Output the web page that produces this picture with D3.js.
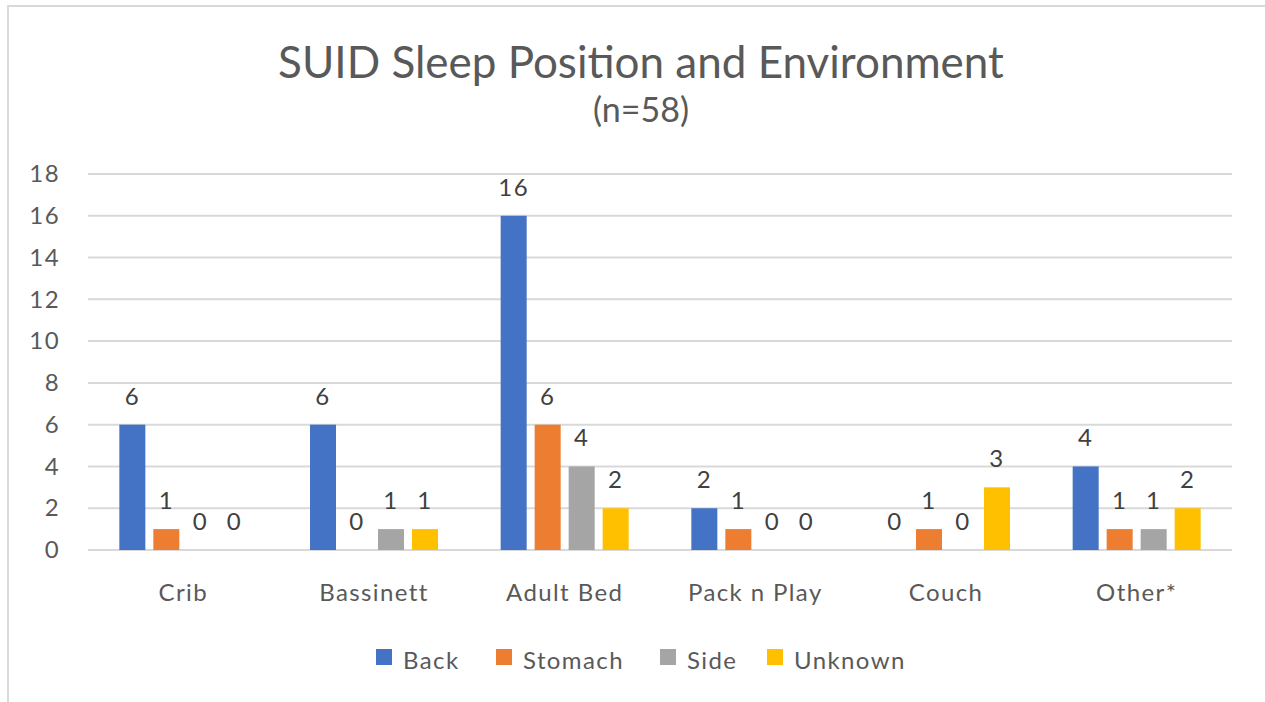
<!DOCTYPE html>
<html>
<head>
<meta charset="utf-8">
<script src="https://cdn.jsdelivr.net/npm/d3@7"></script>
<style>
  body { margin: 0; background: #fff; }
  svg { display: block; font-family: Lato, "Liberation Sans", sans-serif; }
</style>
</head>
<body>
<div id="chart"></div>
<script>
const categories = ['Crib', 'Bassinett', 'Adult Bed', 'Pack n Play', 'Couch', 'Other*'];
const seriesNames = ['Back', 'Stomach', 'Side', 'Unknown'];
const back = [6, 6, 16, 2, 0, 4];
const stomach = [1, 0, 6, 1, 1, 1];
const side = [0, 1, 4, 0, 0, 1];
const unknown = [0, 1, 2, 0, 3, 2];
const yTicks = [0, 2, 4, 6, 8, 10, 12, 14, 16, 18];
const colors = ['#4472c4', '#ed7d31', '#a5a5a5', '#ffc000'];

const values = [back, stomach, side, unknown];
const width = 1265, height = 702;
const margin = { top: 174, right: 33, bottom: 152, left: 88 };
const labelSize = 24, labelSpacing = '1.4px';

const svg = d3.select('#chart').append('svg').attr('width', width).attr('height', height);

// chart frame (only left & top edges are visible in the crop)
svg.append('line').attr('x1', 8).attr('x2', 8).attr('y1', 6).attr('y2', height)
  .attr('stroke', '#d9d9d9').attr('stroke-width', 2);
svg.append('line').attr('x1', 7).attr('x2', width).attr('y1', 6).attr('y2', 6)
  .attr('stroke', '#d9d9d9').attr('stroke-width', 2);

const x0 = d3.scaleBand().domain(categories).range([margin.left, width - margin.right]);
const groupW = 128;
const x1 = d3.scaleBand().domain(seriesNames).range([0, groupW]).paddingInner(0.235).paddingOuter(0);
const y = d3.scaleLinear().domain([0, 18]).range([height - margin.bottom, margin.top]);

// gridlines
svg.append('g').selectAll('line').data(yTicks).enter().append('line')
  .attr('x1', margin.left).attr('x2', width - margin.right)
  .attr('y1', d => y(d)).attr('y2', d => y(d))
  .attr('stroke', '#d9d9d9').attr('stroke-width', 2);

// y axis labels
const yAxis = d3.axisLeft(y).tickValues(yTicks).tickSize(0).tickPadding(0);
const yg = svg.append('g').attr('transform', `translate(60,0)`).call(yAxis);
yg.select('.domain').remove();
yg.selectAll('text').attr('font-size', labelSize).attr('fill', '#595959')
  .attr('font-family', 'Lato, sans-serif').style('letter-spacing', labelSpacing);

// x axis labels
const xAxis = d3.axisBottom(x0).tickSize(0).tickPadding(0);
const xg = svg.append('g').attr('transform', `translate(0,${y(0) + 34})`).call(xAxis);
xg.select('.domain').remove();
xg.selectAll('text').attr('font-size', labelSize).attr('fill', '#595959')
  .attr('font-family', 'Lato, sans-serif').style('letter-spacing', labelSpacing);

// bars
const rows = [];
categories.forEach((c, ci) => {
  seriesNames.forEach((s, si) => rows.push({ cat: c, ser: s, si, v: values[si][ci] }));
});
const gx = c => x0(c) + (x0.bandwidth() - groupW) / 2;

svg.append('g').selectAll('rect').data(rows.filter(d => d.v > 0)).enter().append('rect')
  .attr('x', d => gx(d.cat) + x1(d.ser))
  .attr('width', x1.bandwidth())
  .attr('y', d => y(d.v))
  .attr('height', d => y(0) - y(d.v))
  .attr('fill', d => colors[d.si]);

svg.append('g').selectAll('text').data(rows).enter().append('text')
  .attr('x', d => gx(d.cat) + x1(d.ser) + x1.bandwidth() / 2)
  .attr('y', d => y(d.v) - 20)
  .attr('text-anchor', 'middle')
  .attr('font-size', labelSize).attr('fill', '#404040')
  .style('letter-spacing', labelSpacing)
  .text(d => d.v);

// title
svg.append('text').attr('x', 641).attr('y', 78).attr('text-anchor', 'middle')
  .attr('font-size', 44).attr('fill', '#595959').text('SUID Sleep Position and Environment');
svg.append('text').attr('x', 641).attr('y', 122).attr('text-anchor', 'middle')
  .attr('font-size', 34).attr('fill', '#595959').text('(n=58)');

// legend
const legendX = [376, 496, 660, 767];
const lg = svg.append('g').selectAll('g').data(seriesNames).enter().append('g')
  .attr('transform', (d, i) => `translate(${legendX[i]},649)`);
lg.append('rect').attr('width', 16).attr('height', 16).attr('fill', (d, i) => colors[i]);
lg.append('text').attr('x', 27).attr('y', 20).attr('font-size', labelSize).attr('fill', '#595959')
  .style('letter-spacing', labelSpacing).text(d => d);
</script>
</body>
</html>
